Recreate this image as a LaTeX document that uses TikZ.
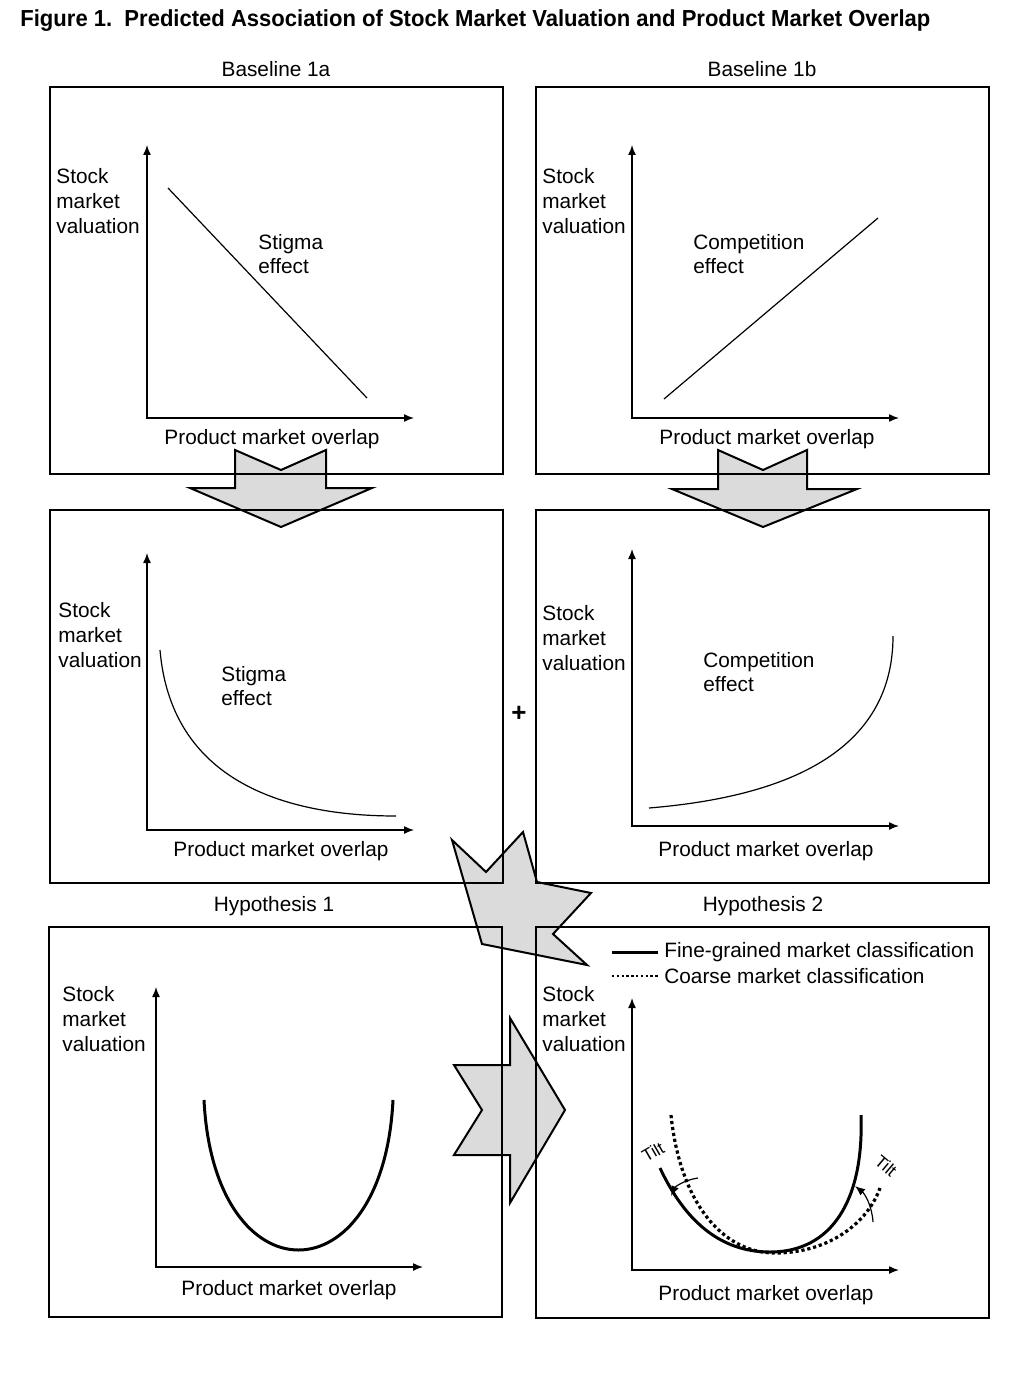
\documentclass[tikz,border=0pt]{standalone}
\usepackage{fontspec}
\setmainfont{Liberation Sans}
\newfontfamily\titlefont[FakeStretch=0.95]{Liberation Sans}
\usetikzlibrary{arrows.meta}

\begin{document}
\begin{tikzpicture}[x=0.5pt,y=-0.5pt]
\tikzstyle{every node}=[inner sep=0pt,font=\fontsize{10.4}{12.3}\selectfont]
\tikzstyle{frame}=[line width=0.6pt]
\tikzstyle{axis}=[line width=0.7pt,{Latex[length=5pt,width=4pt]}-{Latex[length=5pt,width=4pt]}]
\tikzstyle{bigarrow}=[draw,line width=1pt,fill=gray!28,line join=miter]
\tikzstyle{ylab}=[anchor=west,align=left]
\tikzstyle{thick curve}=[line width=1.5pt]
\tikzstyle{dotcurve}=[line width=1.6pt,dash pattern=on 1.6pt off 1.4pt]
\tikzstyle{tilt}=[font=\fontsize{8.6}{9}\selectfont]
\useasboundingbox (0,0) rectangle (1028,1380);

% title
\node[anchor=west,font=\titlefont\bfseries\fontsize{11.6}{13}\selectfont](fig) at (20,21)
  {Figure 1.\ \ Predicted Association of Stock Market Valuation and Product Market Overlap};

% grey arrows (under the frames)
\draw[bigarrow] (235,450) -- (281,470) -- (326,450) -- (326,488) -- (372,488)
  -- (281,527) -- (190,488) -- (235,488) -- cycle;
\draw[bigarrow] (718,450) -- (763,470) -- (807,450) -- (807,489) -- (857,489)
  -- (763,527) -- (672,489) -- (718,489) -- cycle;
\draw[bigarrow] (452,840) -- (486,872) -- (523,832) -- (537,882) -- (591,893)
  -- (553,934) -- (587,965) -- (482,944) -- cycle;
\draw[bigarrow] (510,1018) -- (565,1110) -- (510,1203) -- (510,1155) -- (454,1155)
  -- (482,1110) -- (454,1065) -- (510,1065) -- cycle;

% frames
\draw[frame] (50,87) rectangle (503,474);
\draw[frame] (536,87) rectangle (989,474);
\draw[frame] (50,510) rectangle (503,883);
\draw[frame] (536,510) rectangle (989,883);
\draw[frame] (49,927) rectangle (502,1317);
\draw[frame] (536,927) rectangle (989,1318);

\node(t1a) at (276,69) {Baseline 1a};
\node(t1b) at (762,69) {Baseline 1b};
\node(th1) at (274,906) {Hypothesis 1};
\node(th2) at (763,906) {Hypothesis 2};
\node(plus) at (519,714) {\fontsize{13}{13}\selectfont\bfseries +};

% Baseline 1a
\draw[axis] (147,145) |- (414,418);
\node[ylab](ya) at (56,201) {Stock\\market\\valuation};
\node(xa) at (272,439) {Product market overlap};
\draw[line width=0.6pt] (168,188) -- (367,398);
\node[ylab](sa) at (258,254) {Stigma\\effect};

% Baseline 1b
\draw[axis] (632,145) |- (899,418);
\node[ylab](yb) at (542,201) {Stock\\market\\valuation};
\node(xb) at (767,439) {Product market overlap};
\draw[line width=0.6pt] (664,399) -- (878,218);
\node[ylab](cb) at (693,254) {Competition\\effect};

% convex stigma
\draw[axis] (147,553) |- (414,830);
\node[ylab](yc) at (58,635) {Stock\\market\\valuation};
\node(xc) at (281,851) {Product market overlap};
\draw[line width=0.6pt] (160,650) .. controls (172,790) and (300,816) .. (396,816);
\node[ylab](sc) at (221,686) {Stigma\\effect};

% convex competition
\draw[axis] (632,549) |- (899,826);
\node[ylab](yd) at (542,638) {Stock\\market\\valuation};
\node(xd) at (766,851) {Product market overlap};
\draw[line width=0.6pt] (649,808) .. controls (770,798) and (893,760) .. (893,636);
\node[ylab](cd) at (703,672) {Competition\\effect};

% Hypothesis 1
\draw[axis] (156,987) |- (423,1267);
\node[ylab](ye) at (62,1019) {Stock\\market\\valuation};
\node(xe) at (289,1290) {Product market overlap};
\draw[thick curve] (204,1100) .. controls (214,1300) and (383,1300) .. (393,1100);

% Hypothesis 2
\draw[axis] (632,998) |- (899,1270);
\node[ylab](yf) at (542,1019) {Stock\\market\\valuation};
\node(xf) at (766,1295) {Product market overlap};
\node[anchor=west](fine) at (664,952) {Fine-grained market classification};
\node[anchor=west](coarse) at (664,976) {Coarse market classification};
\coordinate (lg1) at (612,952);
\coordinate (lg2) at (612,976);
\draw[line width=1.5pt] (lg1) -- ([xshift=-3pt]fine.west);
\draw[dotcurve,line width=1.2pt,dash pattern=on 1.2pt off 1.2pt] (lg2) -- ([xshift=-3pt]coarse.west);
\draw[thick curve] (660,1168) .. controls (690,1232) and (730,1252) .. (770,1252)
  .. controls (832,1252) and (864,1200) .. (861,1115);
\draw[dotcurve] (671,1115) .. controls (680,1202) and (722,1253) .. (775,1253)
  .. controls (830,1253) and (868,1222) .. (880,1188);
\draw[line width=0.6pt,-{Latex[length=5pt,width=4pt]}] (698,1178) .. controls (684,1180) and (675,1187) .. (671,1196);
\draw[line width=0.6pt,-{Latex[length=5pt,width=4pt]}] (873,1222) .. controls (872,1206) and (865,1194) .. (855,1186);
\node[tilt,rotate=30](tl) at (653,1152) {Tilt};
\node[tilt,rotate=-40](tr) at (886,1166) {Tilt};
\end{tikzpicture}
\end{document}
